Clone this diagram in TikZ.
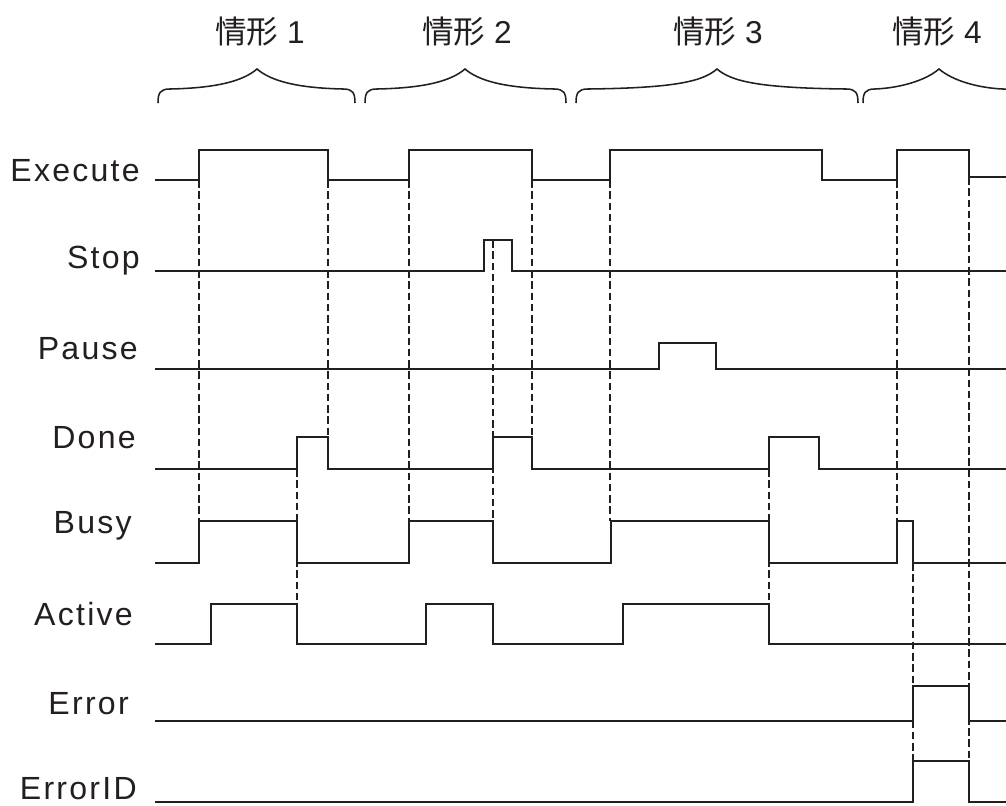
\documentclass[tikz,border=0pt]{standalone}
\usepackage{fontspec}
\usepackage{xcolor}
\usepackage{tikz}
\setmainfont{Liberation Sans}
\newfontfamily\cjk{Noto Sans CJK SC}
\newfontfamily\lblfont{Liberation Sans}[LetterSpace=7]
\definecolor{ink}{RGB}{35,31,32}

% curly brace over one case: left end, tip, right end
\newcommand{\casebrace}[3]{%
  \draw[brc] (#1,103) .. controls (#1,93) and ({#1+2},89) .. ({#1+12},89)
    .. controls ({#2-40},88) and ({#2-14},81) .. (#2,69)
    .. controls ({#2+14},81) and ({#2+40},88) .. ({#3-12},89)
    .. controls ({#3-2},89) and (#3,93) .. (#3,103);}

\begin{document}
\begin{tikzpicture}[
  x=0.025cm, y=-0.025cm,
  sig/.style={draw=ink, line width=1.4pt, line join=miter},
  guide/.style={draw=ink, line width=1.4pt, dash pattern=on 5.5pt off 2.5pt},
  brc/.style={draw=ink, line width=1.1pt},
  lbl/.style={anchor=base east, inner sep=0pt, text=ink,
              font=\lblfont\fontsize{22.8}{26}\selectfont},
  case/.style={inner sep=0pt, text=ink, font=\fontsize{22.5}{26}\selectfont}
]
  \useasboundingbox (0,0) rectangle (1006,805);
  \clip (0,0) rectangle (1006,805);

  % Cases
  \node[case] (case1) at (260,32) {{\cjk 情形} 1};
  \node[case] (case2) at (467,32) {{\cjk 情形} 2};
  \node[case] (case3) at (718,32) {{\cjk 情形} 3};
  \node[case] (case4) at (937,32) {{\cjk 情形} 4};
  \casebrace{158}{257}{355}
  \casebrace{365}{465}{566}
  \casebrace{576}{717}{858}
  \casebrace{863}{939}{1015}

  % Signal names
  \node[lbl] (execute) at (140,181) {Execute};
  \node[lbl] (stop)    at (140,268) {Stop};
  \node[lbl] (pause)   at (138,359) {Pause};
  \node[lbl] (done)    at (136,448) {Done};
  \node[lbl] (busy)    at (132,533) {Busy};
  \node[lbl] (active)  at (133,625) {Active};
  \node[lbl] (error)   at (129,714) {Error};
  \node[lbl] (errorid) at (137,799) {ErrorID};

  % Waveforms
  \draw[sig] (155,180) -- (199,180) -- (199,150) -- (328,150) -- (328,180)
    -- (409,180) -- (409,150) -- (532,150) -- (532,180) -- (610,180)
    -- (610,150) -- (822,150) -- (822,180) -- (897,180) -- (897,150)
    -- (969,150) -- (969,177) -- (1006,177);
  \draw[sig] (155,271) -- (484,271) -- (484,240) -- (512,240) -- (512,271) -- (1006,271);
  \draw[sig] (155,369) -- (659,369) -- (659,343) -- (716,343) -- (716,369) -- (1006,369);
  \draw[sig] (155,469) -- (297,469) -- (297,437) -- (328,437) -- (328,469)
    -- (493,469) -- (493,437) -- (532,437) -- (532,469) -- (769,469)
    -- (769,437) -- (819,437) -- (819,469) -- (1006,469);
  \draw[sig] (155,563) -- (199,563) -- (199,521) -- (297,521) -- (297,563)
    -- (409,563) -- (409,521) -- (493,521) -- (493,563) -- (611,563)
    -- (611,521) -- (769,521) -- (769,563) -- (897,563) -- (897,521)
    -- (913,521) -- (913,563) -- (1006,563);
  \draw[sig] (155,644) -- (211,644) -- (211,604) -- (297,604) -- (297,644)
    -- (426,644) -- (426,604) -- (493,604) -- (493,644) -- (623,644)
    -- (623,604) -- (769,604) -- (769,644) -- (1006,644);
  \draw[sig] (155,721) -- (913,721) -- (913,686) -- (969,686) -- (969,721) -- (1006,721);
  \draw[sig] (155,802) -- (913,802) -- (913,761) -- (969,761) -- (969,802) -- (1006,802);

  % Guides
  \draw[guide] (199,180) -- (199,521);
  \draw[guide] (328,180) -- (328,437);
  \draw[guide] (409,180) -- (409,521);
  \draw[guide] (297,469) -- (297,604);
  \draw[guide] (493,240) -- (493,521);
  \draw[guide] (532,180) -- (532,437);
  \draw[guide] (610,180) -- (610,521);
  \draw[guide] (769,469) -- (769,604);
  \draw[guide] (897,180) -- (897,521);
  \draw[guide] (913,563) -- (913,761);
  \draw[guide] (969,177) -- (969,761);
\end{tikzpicture}
\end{document}
